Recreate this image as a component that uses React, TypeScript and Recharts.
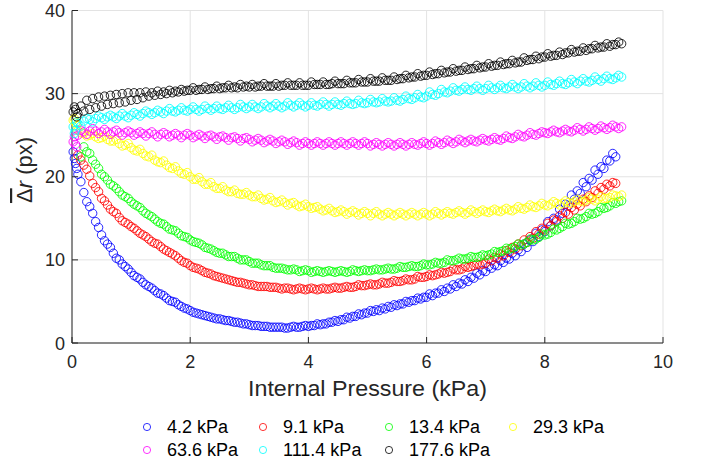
import React from "react";
import { ScatterChart, Scatter, XAxis, YAxis, CartesianGrid } from "recharts";

// internal pressure samples (kPa), first pass
const pressureA = [
  0.02, 0.06, 0.1, 0.2, 0.3, 0.4, 0.5, 0.6, 0.7, 0.8, 0.9, 1.0,
  1.1, 1.2, 1.3, 1.4, 1.5, 1.6, 1.7, 1.8, 1.9, 2.0,
  2.1, 2.2, 2.3, 2.4, 2.5, 2.6, 2.7, 2.8, 2.9, 3.0,
  3.1, 3.2, 3.3, 3.4, 3.5, 3.6, 3.7, 3.8, 3.9, 4.0,
  4.1, 4.2, 4.3, 4.4, 4.5, 4.6, 4.7, 4.8, 4.9, 5.0,
  5.1, 5.2, 5.3, 5.4, 5.5, 5.6, 5.7, 5.8, 5.9, 6.0,
  6.1, 6.2, 6.3, 6.4, 6.5, 6.6, 6.7, 6.8, 6.9, 7.0,
  7.1, 7.2, 7.3, 7.4, 7.5, 7.6, 7.7, 7.8, 7.9, 8.0,
  8.1, 8.2, 8.3, 8.4, 8.5, 8.6, 8.7, 8.8, 8.9, 9.0,
  9.1, 9.2, 9.3,
];

// second pass, sampled in between
const pressureB = [
  0.04, 0.08, 0.15, 0.25, 0.35, 0.45, 0.55, 0.65, 0.75, 0.85, 0.95,
  1.05, 1.15, 1.25, 1.35, 1.45, 1.55, 1.65, 1.75, 1.85, 1.95,
  2.05, 2.15, 2.25, 2.35, 2.45, 2.55, 2.65, 2.75, 2.85, 2.95,
  3.05, 3.15, 3.25, 3.35, 3.45, 3.55, 3.65, 3.75, 3.85, 3.95,
  4.05, 4.15, 4.25, 4.35, 4.45, 4.55, 4.65, 4.75, 4.85, 4.95,
  5.05, 5.15, 5.25, 5.35, 5.45, 5.55, 5.65, 5.75, 5.85, 5.95,
  6.05, 6.15, 6.25, 6.35, 6.45, 6.55, 6.65, 6.75, 6.85, 6.95,
  7.05, 7.15, 7.25, 7.35, 7.45, 7.55, 7.65, 7.75, 7.85, 7.95,
  8.05, 8.15, 8.25, 8.35, 8.45, 8.55, 8.65, 8.75, 8.85, 8.95,
  9.05, 9.15, 9.25,
];

const dr4_2A = [
  23.0, 21.6, 20.3, 18.1, 16.4, 14.6, 13.0, 11.9, 10.8, 10.0, 9.2, 8.5,
  7.9, 7.3, 6.8, 6.3, 5.9, 5.4, 5.0, 4.6, 4.2, 3.9,
  3.6, 3.4, 3.2, 3.0, 2.9, 2.7, 2.6, 2.5, 2.3, 2.2,
  2.1, 2.0, 2.0, 1.9, 1.9, 1.8, 1.9, 1.9, 2.0, 2.0,
  2.1, 2.2, 2.3, 2.5, 2.6, 2.8, 3.0, 3.2, 3.4, 3.6,
  3.8, 3.9, 4.1, 4.3, 4.5, 4.7, 4.9, 5.1, 5.3, 5.5,
  5.7, 6.0, 6.2, 6.5, 6.8, 7.1, 7.4, 7.8, 8.2, 8.6,
  9.0, 9.3, 9.7, 10.1, 10.5, 11.0, 11.5, 12.2, 12.8, 13.4,
  14.1, 14.8, 15.6, 16.5, 17.3, 18.0, 18.8, 19.6, 20.3, 21.0,
  21.9, 22.4, null,
];
const dr4_2B = [
  22.2, 21.0, 19.4, 17.0, 15.6, 13.9, 12.3, 11.5, 10.2, 9.5, 8.9,
  8.1, 7.7, 7.0, 6.6, 6.0, 5.7, 5.1, 4.9, 4.4, 4.1,
  3.7, 3.5, 3.3, 3.1, 2.9, 2.8, 2.7, 2.5, 2.4, 2.3,
  2.1, 2.1, 2.0, 1.9, 1.9, 1.9, 1.8, 2.0, 1.9, 2.1,
  2.1, 2.3, 2.3, 2.5, 2.7, 2.8, 3.1, 3.2, 3.5, 3.6,
  3.9, 4.0, 4.2, 4.4, 4.6, 4.7, 5.0, 5.1, 5.4, 5.5,
  5.9, 6.0, 6.4, 6.6, 7.0, 7.2, 7.6, 7.9, 8.4, 8.7,
  9.2, 9.4, 9.9, 10.2, 10.8, 11.2, 11.9, 12.4, 13.2, 13.6,
  14.6, 15.0, 16.1, 16.7, 17.8, 18.3, 19.3, 19.8, 20.8, 21.2,
  22.0, 22.8, null,
];

const dr9_1A = [
  null, null, 22.6, 21.4, 20.1, 18.7, 17.4, 16.6, 15.8, 15.1, 14.5, 14.0,
  13.5, 13.0, 12.5, 12.0, 11.6, 11.1, 10.7, 10.2, 9.7, 9.3,
  9.0, 8.7, 8.4, 8.1, 7.9, 7.7, 7.5, 7.3, 7.2, 7.0,
  6.9, 6.8, 6.8, 6.7, 6.6, 6.6, 6.5, 6.5, 6.5, 6.5,
  6.5, 6.5, 6.5, 6.6, 6.6, 6.7, 6.7, 6.8, 6.9, 7.0,
  7.0, 7.1, 7.2, 7.3, 7.4, 7.5, 7.6, 7.7, 7.9, 8.0,
  8.1, 8.3, 8.4, 8.6, 8.8, 8.9, 9.1, 9.3, 9.4, 9.6,
  9.9, 10.2, 10.5, 10.9, 11.3, 11.7, 12.1, 12.6, 13.1, 13.6,
  14.1, 14.6, 15.0, 15.5, 16.0, 16.5, 17.0, 17.5, 18.0, 18.5,
  18.9, 19.2, null,
];
const dr9_1B = [
  null, null, 22.0, 20.9, 19.2, 18.2, 17.1, 16.1, 15.6, 14.7, 14.3,
  13.8, 13.2, 12.8, 12.2, 11.9, 11.3, 10.9, 10.5, 9.9, 9.6,
  9.1, 8.9, 8.5, 8.3, 8.0, 7.8, 7.6, 7.4, 7.3, 7.1,
  7.0, 6.8, 6.8, 6.7, 6.7, 6.5, 6.6, 6.4, 6.6, 6.4,
  6.6, 6.4, 6.6, 6.5, 6.7, 6.6, 6.8, 6.7, 7.0, 6.9,
  7.1, 7.0, 7.3, 7.2, 7.5, 7.4, 7.7, 7.6, 8.0, 7.9,
  8.2, 8.2, 8.5, 8.5, 8.9, 8.8, 9.2, 9.2, 9.5, 9.5,
  10.1, 10.3, 10.7, 11.1, 11.5, 11.9, 12.4, 12.8, 13.4, 13.8,
  14.4, 14.8, 15.3, 15.7, 16.3, 16.7, 17.3, 17.7, 18.3, 18.7,
  19.1, 19.3, null,
];

const dr13_4A = [
  null, null, null, 23.6, 22.8, 21.5, 20.3, 19.6, 18.9, 18.2, 17.6, 17.0,
  16.5, 15.9, 15.4, 14.9, 14.4, 14.0, 13.6, 13.2, 12.8, 12.4,
  12.1, 11.8, 11.4, 11.1, 10.8, 10.6, 10.4, 10.2, 10.0, 9.8,
  9.6, 9.4, 9.3, 9.1, 9.0, 8.9, 8.8, 8.8, 8.7, 8.7,
  8.6, 8.6, 8.6, 8.6, 8.6, 8.6, 8.6, 8.7, 8.7, 8.7,
  8.8, 8.8, 8.9, 8.9, 9.0, 9.1, 9.2, 9.2, 9.3, 9.4,
  9.5, 9.6, 9.7, 9.9, 10.0, 10.1, 10.2, 10.3, 10.4, 10.5,
  10.7, 10.9, 11.1, 11.3, 11.6, 11.8, 12.1, 12.4, 12.7, 13.0,
  13.3, 13.6, 14.0, 14.3, 14.6, 14.9, 15.2, 15.5, 15.8, 16.2,
  16.5, 16.8, 17.1,
];
const dr13_4B = [
  null, null, 22.4, 23.0, 22.0, 21.0, 20.0, 19.1, 18.6, 17.8, 17.4,
  16.7, 16.3, 15.6, 15.2, 14.6, 14.3, 13.7, 13.5, 12.9, 12.7,
  12.2, 12.0, 11.5, 11.3, 10.9, 10.8, 10.4, 10.4, 10.0, 10.0,
  9.6, 9.6, 9.3, 9.3, 9.0, 9.0, 8.8, 8.9, 8.6, 8.8,
  8.5, 8.7, 8.5, 8.7, 8.5, 8.7, 8.5, 8.8, 8.6, 8.8,
  8.7, 8.9, 8.8, 9.0, 8.9, 9.2, 9.1, 9.3, 9.2, 9.5,
  9.4, 9.7, 9.6, 10.0, 9.9, 10.2, 10.1, 10.4, 10.3, 10.6,
  10.6, 11.0, 11.0, 11.4, 11.4, 11.9, 11.9, 12.5, 12.5, 13.1,
  13.1, 13.7, 13.8, 14.4, 14.4, 15.0, 15.0, 15.6, 15.6, 16.3,
  16.3, 16.9, 17.0,
];

const dr29_3A = [
  26.8, 26.5, 25.6, 25.2, 25.0, 24.8, 24.7, 24.5, 24.3, 24.0, 23.8, 23.5,
  23.1, 22.8, 22.4, 22.0, 21.7, 21.4, 21.0, 20.7, 20.3, 20.0,
  19.7, 19.4, 19.1, 18.8, 18.6, 18.4, 18.2, 18.0, 17.9, 17.8,
  17.6, 17.4, 17.3, 17.1, 17.0, 16.9, 16.8, 16.6, 16.5, 16.4,
  16.3, 16.1, 16.0, 15.9, 15.8, 15.8, 15.7, 15.7, 15.6, 15.6,
  15.6, 15.5, 15.5, 15.5, 15.5, 15.5, 15.5, 15.5, 15.5, 15.5,
  15.5, 15.6, 15.6, 15.6, 15.7, 15.7, 15.7, 15.8, 15.8, 15.8,
  15.9, 15.9, 16.0, 16.0, 16.1, 16.2, 16.3, 16.4, 16.5, 16.6,
  16.7, 16.8, 16.8, 16.9, 17.0, 17.1, 17.2, 17.3, 17.3, 17.4,
  17.5, 17.7, 17.8,
];
const dr29_3B = [
  27.0, 26.2, 25.3, 24.9, 25.2, 24.6, 24.9, 24.3, 24.5, 23.7, 24.0,
  23.2, 23.3, 22.5, 22.6, 21.8, 21.9, 21.1, 21.2, 20.4, 20.5,
  19.7, 19.9, 19.1, 19.3, 18.6, 18.8, 18.2, 18.4, 17.9, 18.1,
  17.6, 17.8, 17.2, 17.5, 16.9, 17.2, 16.6, 16.9, 16.4, 16.7,
  16.2, 16.4, 15.9, 16.2, 15.7, 16.0, 15.5, 15.9, 15.4, 15.8,
  15.3, 15.8, 15.3, 15.7, 15.3, 15.7, 15.3, 15.7, 15.3, 15.7,
  15.3, 15.8, 15.4, 15.8, 15.5, 15.9, 15.5, 16.0, 15.6, 16.0,
  15.7, 16.1, 15.8, 16.2, 15.9, 16.4, 16.1, 16.6, 16.3, 16.8,
  16.5, 17.0, 16.6, 17.1, 16.8, 17.3, 17.0, 17.5, 17.1, 17.6,
  17.4, 17.8, 17.6,
];

const dr63_6A = [
  24.2, 23.9, 25.0, 25.4, 25.5, 25.5, 25.4, 25.4, 25.4, 25.3, 25.3, 25.3,
  25.2, 25.2, 25.2, 25.1, 25.1, 25.1, 25.0, 25.0, 25.0, 25.0,
  24.9, 24.9, 24.9, 24.8, 24.8, 24.7, 24.7, 24.6, 24.6, 24.5,
  24.4, 24.4, 24.3, 24.3, 24.2, 24.2, 24.1, 24.1, 24.0, 24.0,
  24.0, 24.0, 24.0, 24.0, 24.0, 24.0, 24.0, 24.0, 24.0, 24.0,
  23.9, 23.9, 23.9, 23.9, 23.9, 23.9, 23.9, 23.9, 24.0, 24.0,
  24.0, 24.1, 24.1, 24.2, 24.2, 24.3, 24.3, 24.3, 24.4, 24.4,
  24.5, 24.5, 24.6, 24.7, 24.8, 24.9, 25.0, 25.1, 25.2, 25.3,
  25.4, 25.4, 25.5, 25.5, 25.6, 25.7, 25.7, 25.8, 25.8, 25.9,
  25.9, 26.0, 26.0,
];
const dr63_6B = [
  24.8, 23.6, 25.6, 25.1, 25.8, 25.2, 25.7, 25.1, 25.6, 25.0, 25.5,
  25.0, 25.4, 24.9, 25.4, 24.8, 25.3, 24.8, 25.2, 24.7, 25.2,
  24.7, 25.1, 24.6, 25.0, 24.5, 24.9, 24.4, 24.8, 24.3, 24.7,
  24.2, 24.6, 24.1, 24.5, 24.0, 24.4, 23.9, 24.3, 23.8, 24.2,
  23.8, 24.2, 23.8, 24.2, 23.8, 24.2, 23.8, 24.2, 23.8, 24.2,
  23.7, 24.1, 23.7, 24.1, 23.7, 24.1, 23.7, 24.1, 23.8, 24.2,
  23.8, 24.3, 23.9, 24.4, 24.0, 24.5, 24.1, 24.5, 24.2, 24.6,
  24.3, 24.7, 24.4, 24.9, 24.6, 25.1, 24.8, 25.3, 25.0, 25.4,
  25.2, 25.6, 25.3, 25.7, 25.4, 25.9, 25.5, 26.0, 25.6, 26.1,
  25.7, 26.2, 25.8,
];

const dr111_4A = [
  26.0, 25.6, 26.4, 26.7, 26.9, 27.0, 27.1, 27.2, 27.2, 27.3, 27.3, 27.4,
  27.5, 27.6, 27.7, 27.7, 27.8, 27.9, 27.9, 28.0, 28.0, 28.1,
  28.1, 28.1, 28.2, 28.2, 28.2, 28.3, 28.3, 28.3, 28.4, 28.4,
  28.4, 28.4, 28.5, 28.5, 28.5, 28.5, 28.6, 28.6, 28.6, 28.6,
  28.6, 28.7, 28.7, 28.7, 28.7, 28.8, 28.8, 28.8, 28.9, 28.9,
  29.0, 29.0, 29.1, 29.1, 29.2, 29.3, 29.4, 29.5, 29.6, 29.7,
  29.9, 30.0, 30.2, 30.3, 30.4, 30.5, 30.5, 30.6, 30.6, 30.6,
  30.7, 30.7, 30.7, 30.8, 30.8, 30.8, 30.9, 30.9, 31.0, 31.0,
  31.1, 31.2, 31.2, 31.3, 31.4, 31.5, 31.5, 31.6, 31.7, 31.8,
  31.8, 31.9, 32.0,
];
const dr111_4B = [
  25.2, 26.6, 26.1, 27.0, 26.6, 27.3, 26.9, 27.4, 27.0, 27.6, 27.1,
  27.7, 27.3, 27.9, 27.5, 28.0, 27.6, 28.2, 27.8, 28.3, 27.9,
  28.4, 27.9, 28.5, 28.0, 28.5, 28.1, 28.6, 28.1, 28.7, 28.2,
  28.7, 28.2, 28.8, 28.3, 28.8, 28.3, 28.9, 28.4, 28.9, 28.4,
  28.9, 28.5, 29.0, 28.5, 29.0, 28.6, 29.1, 28.7, 29.2, 28.8,
  29.3, 28.9, 29.4, 29.0, 29.5, 29.1, 29.7, 29.3, 29.9, 29.5,
  30.2, 29.8, 30.5, 30.1, 30.7, 30.3, 30.8, 30.4, 30.9, 30.4,
  31.0, 30.5, 31.0, 30.6, 31.1, 30.6, 31.2, 30.7, 31.3, 30.8,
  31.4, 31.0, 31.5, 31.1, 31.7, 31.2, 31.8, 31.4, 32.0, 31.5,
  32.1, 31.7, 32.2,
];

const dr177_6A = [
  27.8, 28.1, 27.6, 27.9, 28.1, 28.3, 28.5, 28.7, 28.8, 28.9, 29.0, 29.2,
  29.3, 29.5, 29.7, 29.8, 29.9, 30.0, 30.1, 30.2, 30.3, 30.4,
  30.4, 30.5, 30.5, 30.6, 30.6, 30.7, 30.7, 30.7, 30.8, 30.8,
  30.8, 30.9, 30.9, 30.9, 30.9, 31.0, 31.0, 31.0, 31.0, 31.0,
  31.1, 31.1, 31.1, 31.2, 31.2, 31.2, 31.3, 31.3, 31.4, 31.4,
  31.5, 31.5, 31.6, 31.6, 31.7, 31.8, 31.9, 32.0, 32.1, 32.2,
  32.3, 32.4, 32.5, 32.6, 32.7, 32.8, 32.9, 33.0, 33.1, 33.2,
  33.3, 33.4, 33.5, 33.6, 33.7, 33.8, 34.0, 34.1, 34.2, 34.4,
  34.5, 34.6, 34.7, 34.9, 35.0, 35.1, 35.2, 35.4, 35.5, 35.6,
  35.7, 35.9, 36.0,
];
const dr177_6B = [
  28.4, 27.2, 28.5, 29.2, 29.4, 29.6, 29.7, 29.8, 29.9, 30.0, 30.1,
  30.1, 30.1, 30.2, 30.1, 30.3, 30.2, 30.4, 30.3, 30.5, 30.4,
  30.7, 30.5, 30.8, 30.6, 30.9, 30.7, 31.0, 30.8, 31.1, 30.9,
  31.1, 30.9, 31.2, 30.9, 31.2, 31.0, 31.3, 31.0, 31.3, 31.0,
  31.4, 31.1, 31.4, 31.1, 31.5, 31.2, 31.6, 31.3, 31.7, 31.4,
  31.8, 31.5, 31.9, 31.6, 32.0, 31.8, 32.2, 32.0, 32.4, 32.2,
  32.6, 32.4, 32.8, 32.6, 33.0, 32.8, 33.2, 33.0, 33.4, 33.2,
  33.6, 33.4, 33.8, 33.6, 34.0, 33.8, 34.3, 34.1, 34.5, 34.4,
  34.8, 34.6, 35.0, 34.9, 35.3, 35.1, 35.5, 35.4, 35.8, 35.6,
  36.0, 35.9, 36.2,
];

const xTicks = [0, 2, 4, 6, 8, 10];
const yTicks = [0, 10, 20, 30, 40];

const series = [
  { name: "4.2 kPa", color: "#0000ff", a: dr4_2A, b: dr4_2B },
  { name: "9.1 kPa", color: "#ff0000", a: dr9_1A, b: dr9_1B },
  { name: "13.4 kPa", color: "#00ff00", a: dr13_4A, b: dr13_4B },
  { name: "29.3 kPa", color: "#ffff00", a: dr29_3A, b: dr29_3B },
  { name: "63.6 kPa", color: "#ff00ff", a: dr63_6A, b: dr63_6B },
  { name: "111.4 kPa", color: "#00ffff", a: dr111_4A, b: dr111_4B },
  { name: "177.6 kPa", color: "#000000", a: dr177_6A, b: dr177_6B },
];

const toPoints = (a: (number | null)[], b: (number | null)[]) => {
  const pts: { x: number; y: number }[] = [];
  pressureA.forEach((p, i) => {
    if (a[i] != null) pts.push({ x: p, y: a[i] as number });
    if (i < pressureB.length && b[i] != null) pts.push({ x: pressureB[i], y: b[i] as number });
  });
  return pts;
};

const FONT = "Liberation Sans";
const INK = "#262626";

const ring = (color: string) => (props: any) =>
  <circle cx={props.cx} cy={props.cy} r={4.2} fill="none" stroke={color} strokeWidth={0.85} />;

const XTick = (props: any) => {
  const { x, y, payload } = props;
  return (
    <g>
      <line x1={x} x2={x} y1={y} y2={y - 6} stroke={INK} />
      <text x={x} y={y + 25} textAnchor="middle" style={{ fontFamily: FONT }} fontSize={18} fill={INK}>
        {payload.value}
      </text>
    </g>
  );
};

const YTick = (props: any) => {
  const { x, y, payload } = props;
  return (
    <g>
      <line x1={x} x2={x + 6} y1={y} y2={y} stroke={INK} />
      <text x={x - 7} y={y + 6.5} textAnchor="end" style={{ fontFamily: FONT }} fontSize={18} fill={INK}>
        {payload.value}
      </text>
    </g>
  );
};

// legend layout, 4 columns like the matlab legend
const legendCols = [147, 263, 389, 513];
const legendRows = [427, 450];

export default function App() {
  return (
    <div style={{ position: "absolute", left: 0, top: 0, width: 702, height: 460, background: "#fff" }}>
      <ScatterChart width={702} height={460} margin={{ top: 10.5, right: 39, bottom: 0, left: 0 }}>
        <CartesianGrid stroke="#e3e3e3" strokeWidth={1} />
        <XAxis
          type="number"
          dataKey="x"
          domain={[0, 10]}
          ticks={xTicks}
          height={117}
          tickSize={0}
          tickMargin={0}
          stroke={INK}
          tick={<XTick />}
          label={{
            content: () => (
              <text
                x={367.5}
                y={396}
                textAnchor="middle"
                style={{ fontFamily: FONT }}
                fontSize={22}
                textLength={239}
                lengthAdjust="spacingAndGlyphs"
                fill={INK}
              >
                Internal Pressure (kPa)
              </text>
            ),
          }}
        />
        <YAxis
          type="number"
          dataKey="y"
          domain={[0, 40]}
          ticks={yTicks}
          width={72}
          tickSize={0}
          tickMargin={0}
          stroke={INK}
          tick={<YTick />}
          label={{
            content: () => (
              <text
                transform="translate(32,170) rotate(-90)"
                textAnchor="middle"
                style={{ fontFamily: FONT }}
                fontSize={22}
                fill={INK}
              >
                <tspan style={{ textDecoration: "overline" }}>{"\u0394"}</tspan>
                <tspan fontStyle="italic">r</tspan>
                {" (px)"}
              </text>
            ),
          }}
        />
        {series.map((s) => (
          <Scatter
            key={s.name}
            name={s.name}
            data={toPoints(s.a, s.b)}
            shape={ring(s.color)}
            isAnimationActive={false}
          />
        ))}
      </ScatterChart>
      <svg width={702} height={460} style={{ position: "absolute", left: 0, top: 0, pointerEvents: "none" }}>
        {series.map((s, i) => {
          const cx = legendCols[i % 4];
          const cy = legendRows[Math.floor(i / 4)];
          return (
            <g key={s.name}>
              <circle cx={cx} cy={cy} r={3.6} fill="none" stroke={s.color} strokeWidth={0.8} />
              <text x={cx + 20} y={cy + 5.5} style={{ fontFamily: FONT }} fontSize={18} fill="#000">
                {s.name}
              </text>
            </g>
          );
        })}
      </svg>
    </div>
  );
}
